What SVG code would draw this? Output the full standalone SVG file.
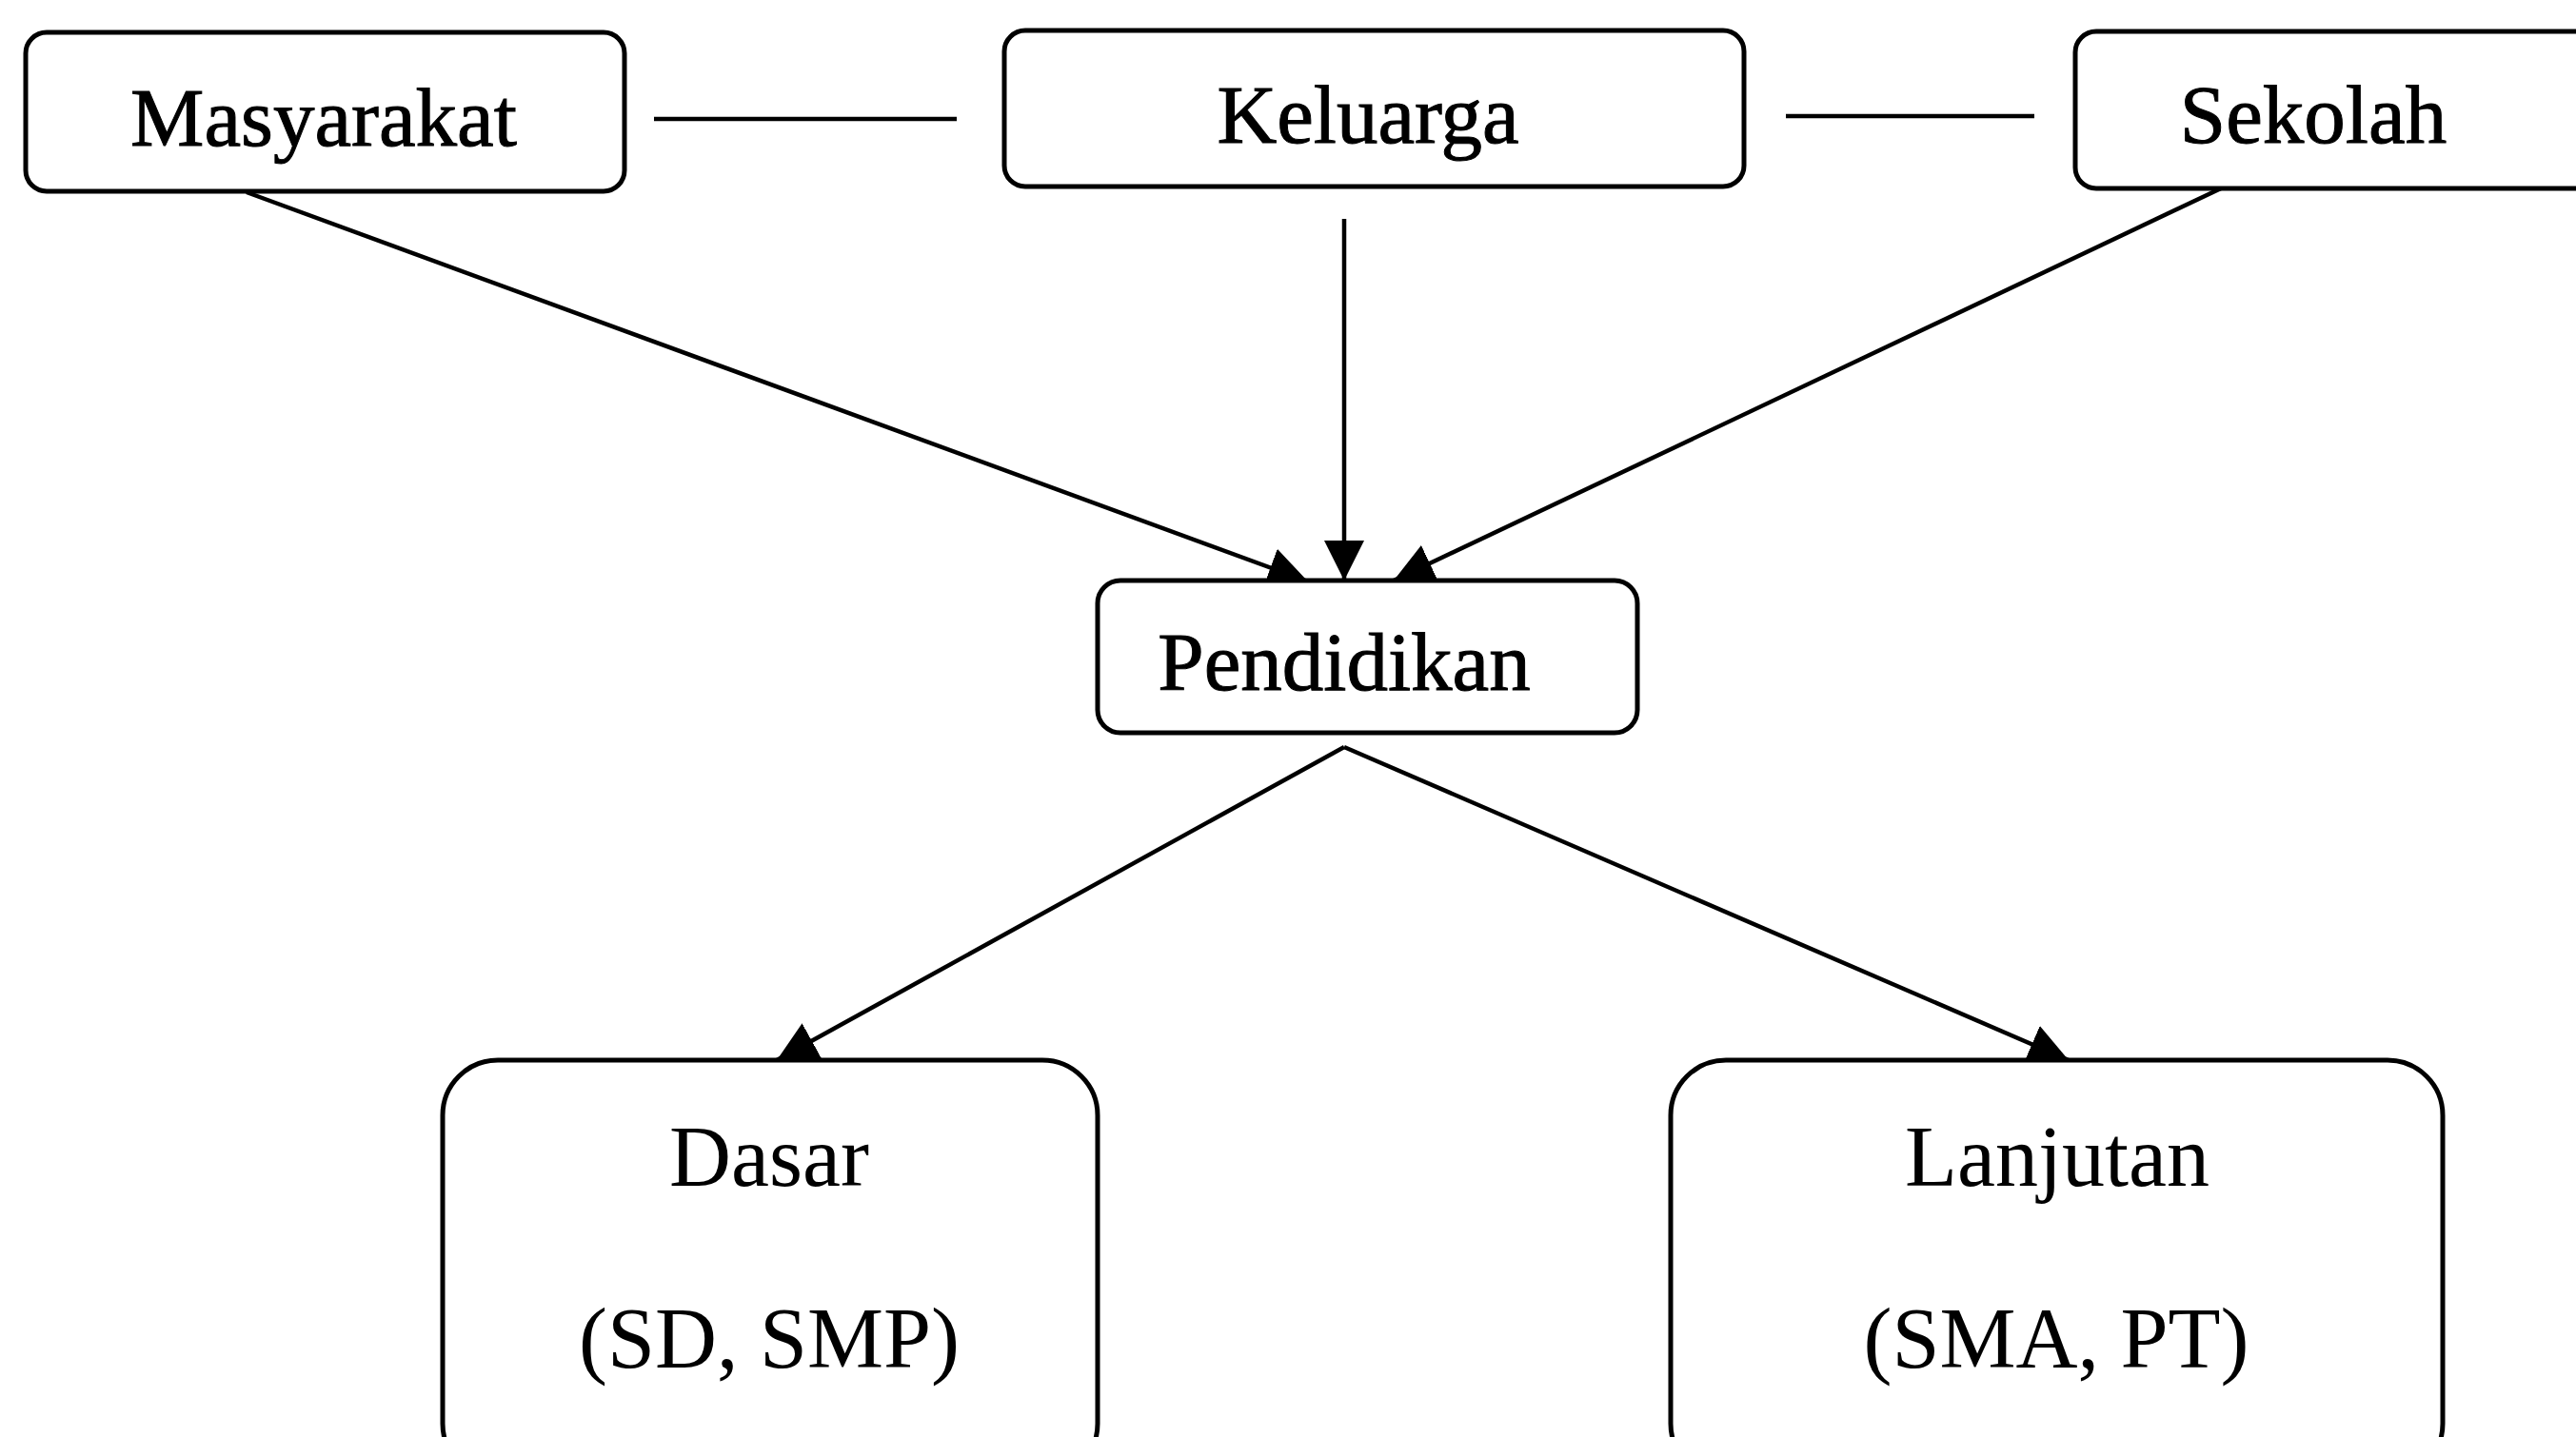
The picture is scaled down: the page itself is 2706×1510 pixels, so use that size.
<svg xmlns="http://www.w3.org/2000/svg" width="2706" height="1510" viewBox="0 0 2706 1510">
<style>
.box{fill:#ffffff;stroke:#000000;stroke-width:5}
.conn{stroke:#000000;stroke-width:4.5;fill:none}
.lbl{font-family:"Liberation Serif","Times New Roman",serif;font-size:87px;fill:#000000;text-anchor:middle;stroke:#000000;stroke-width:1}
.lbl2{font-family:"Liberation Serif","Times New Roman",serif;font-size:90px;fill:#000000;text-anchor:middle}
</style>
<defs>
<marker id="ah" markerUnits="userSpaceOnUse" markerWidth="42" markerHeight="42" refX="42" refY="21" orient="auto">
<path d="M0,0 L42,21 L0,42 Z" fill="#000000"/>
</marker>
</defs>
<rect width="2706" height="1510" fill="#ffffff"/>
<g id="connectors">
<line class="conn" x1="687" y1="125" x2="1005" y2="125"/>
<line class="conn" x1="1876" y1="122" x2="2137" y2="122"/>
<line class="conn" x1="259" y1="202" x2="1374" y2="611" marker-end="url(#ah)"/>
<line class="conn" x1="1412" y1="230" x2="1412" y2="610" marker-end="url(#ah)"/>
<line class="conn" x1="2333" y1="198" x2="1464" y2="610" marker-end="url(#ah)"/>
<line class="conn" x1="1412" y1="785" x2="816" y2="1114" marker-end="url(#ah)"/>
<line class="conn" x1="1412" y1="785" x2="2173" y2="1114" marker-end="url(#ah)"/>
</g>
<g id="masyarakat">
<rect class="box" x="27" y="34" width="629" height="167" rx="22" ry="22"/>
<text class="lbl" x="340" y="153">Masyarakat</text>
</g>
<g id="keluarga">
<rect class="box" x="1055" y="32" width="777" height="164" rx="22" ry="22"/>
<text class="lbl" x="1437" y="150">Keluarga</text>
</g>
<g id="sekolah">
<rect class="box" x="2180" y="33" width="560" height="165" rx="22" ry="22"/>
<text class="lbl" x="2430" y="150">Sekolah</text>
</g>
<g id="pendidikan">
<rect class="box" x="1153" y="610" width="567" height="160" rx="24" ry="24"/>
<text class="lbl" x="1412" y="725">Pendidikan</text>
</g>
<g id="dasar">
<rect class="box" x="465" y="1114" width="688" height="440" rx="58" ry="58"/>
<text class="lbl2" x="808" y="1246">Dasar</text>
<text class="lbl2" x="808" y="1437">(SD, SMP)</text>
</g>
<g id="lanjutan">
<rect class="box" x="1755" y="1114" width="811" height="440" rx="58" ry="58"/>
<text class="lbl2" x="2161" y="1246">Lanjutan</text>
<text class="lbl2" x="2160" y="1437">(SMA, PT)</text>
</g>
</svg>
